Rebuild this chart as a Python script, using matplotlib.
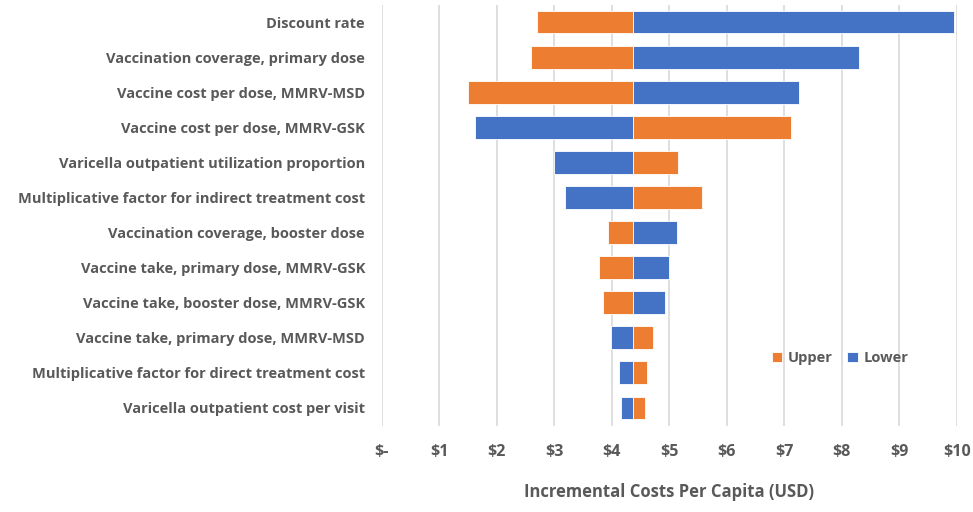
import matplotlib
matplotlib.use("Agg")
import matplotlib.pyplot as plt
import numpy as np

# tornado chart, base case ~ $4.38 per capita
base = 4.376

params = [
    "Discount rate",
    "Vaccination coverage, primary dose",
    "Vaccine cost per dose, MMRV-MSD",
    "Vaccine cost per dose, MMRV-GSK",
    "Varicella outpatient utilization proportion",
    "Multiplicative factor for indirect treatment cost",
    "Vaccination coverage, booster dose",
    "Vaccine take, primary dose, MMRV-GSK",
    "Vaccine take, booster dose, MMRV-GSK",
    "Vaccine take, primary dose, MMRV-MSD",
    "Multiplicative factor for direct treatment cost",
    "Varicella outpatient cost per visit",
]
upper = [2.70, 2.59, 1.50, 7.12, 5.15, 5.57, 3.94, 3.78, 3.85, 4.71, 4.61, 4.58]
lower = [9.95, 8.30, 7.26, 1.62, 2.99, 3.19, 5.13, 5.00, 4.93, 3.98, 4.13, 4.16]

ticks = np.arange(0, 11)
tick_labels = ["$-"] + ["$%d" % t for t in ticks[1:]]

orange = "#ED7D31"
blue = "#4472C4"
grey = "#595959"

plt.rcParams["font.family"] = ["Open Sans", "DejaVu Sans"]

fig = plt.figure(figsize=(9.73, 5.12), dpi=100)
ax = fig.add_axes([381.7 / 973, 1 - 425.5 / 512, 575 / 973, 421 / 512])

y = np.arange(len(params))
up = np.array(upper)
lo = np.array(lower)
ax.barh(y, up - base, left=base, height=0.65, color=orange, edgecolor="white",
        linewidth=0.6, label="Upper", zorder=3)
ax.barh(y, lo - base, left=base, height=0.65, color=blue, edgecolor="white",
        linewidth=0.6, label="Lower", zorder=3)

ax.set_xlim(0, 10)
ax.set_ylim(11.5, -0.5)
ax.set_xticks(ticks)
ax.set_xticklabels(tick_labels)
ax.set_yticks(y)
ax.set_yticklabels(params)
ax.grid(axis="x", color="#D9D9D9", linewidth=1.2, zorder=0)
for s in ax.spines.values():
    s.set_visible(False)
ax.tick_params(axis="y", length=0, colors=grey, labelsize=10.5, pad=12)
ax.tick_params(axis="x", length=0, colors=grey, labelsize=11.5, pad=13)
for lab in ax.get_xticklabels() + ax.get_yticklabels():
    lab.set_fontweight("bold")

ax.set_xlabel("Incremental Costs Per Capita (USD)", fontsize=12, color=grey,
              fontweight="bold", labelpad=17)

leg = ax.legend(loc="center", bbox_to_anchor=((840 - 381.7) / 575, 1 - (358 - 4.5) / 421),
                ncol=2, frameon=False, handlelength=0.7, handleheight=0.7,
                handletextpad=0.4, columnspacing=1.0, fontsize=10.5)
for t in leg.get_texts():
    t.set_color(grey)
    t.set_fontweight("bold")

fig.savefig("out.png", dpi=100)
